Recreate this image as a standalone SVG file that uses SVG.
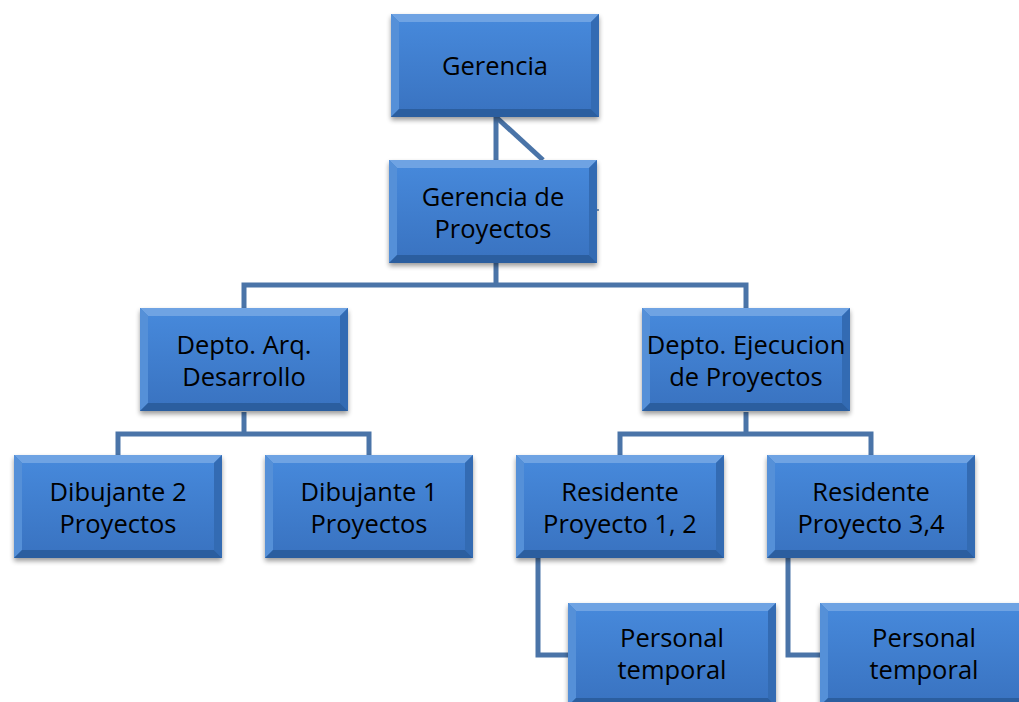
<svg xmlns="http://www.w3.org/2000/svg" xmlns:xlink="http://www.w3.org/1999/xlink" width="1019" height="702" viewBox="0 0 1019 702">
<style>
.c{fill:none;stroke:#4A74A8;stroke-width:5;stroke-linejoin:miter}
.t{font-family:"Open Sans","Liberation Sans",sans-serif;font-size:25.5px;fill:#000;text-anchor:middle}
</style>
<defs>
<linearGradient id="g" x1="0" y1="0" x2="0" y2="1">
<stop offset="0" stop-color="#4688DA"/>
<stop offset="1" stop-color="#3A74C2"/>
</linearGradient>
<filter id="sh" x="-10%" y="-10%" width="120%" height="130%">
<feGaussianBlur in="SourceAlpha" stdDeviation="2.5"/>
<feOffset dx="0" dy="3"/>
<feComponentTransfer><feFuncA type="linear" slope="0.4"/></feComponentTransfer>
<feMerge><feMergeNode/><feMergeNode in="SourceGraphic"/></feMerge>
</filter>
<g id="box">
<rect x="0" y="0" width="208" height="103" fill="#3E7BC9" filter="url(#sh)"/>
<polygon points="0,0 208,0 200,8 8,8" fill="#6FA3E3"/>
<polygon points="0,0 8,8 8,95 0,103" fill="#5590D8"/>
<polygon points="208,0 208,103 200,95 200,8" fill="#336BB3"/>
<polygon points="0,103 8,95 200,95 208,103" fill="#2B5E9F"/>
<rect x="8" y="8" width="192" height="87" fill="url(#g)"/>
</g>
</defs>
<rect width="1019" height="702" fill="#fff"/>
<g id="connectors">
<path class="c" d="M496,117 V160"/>
<path class="c" d="M496,117 L543,160"/>
<path class="c" d="M496,263 V285"/>
<path class="c" d="M244,308 V285 H746 V308"/>
<path class="c" d="M244,412 V434"/>
<path class="c" d="M118,455 V434 H369 V455"/>
<path class="c" d="M746,412 V434"/>
<path class="c" d="M620,455 V434 H871 V455"/>
<path class="c" d="M538,558 V655 H568"/>
<path class="c" d="M788,558 V655 H820"/>
<path d="M597,210 h2" stroke="#4A74A8" stroke-width="1.5"/>
</g>
<g id="gerencia" transform="translate(391,14)"><use xlink:href="#box"/><text class="t" x="104" y="61">Gerencia</text></g>
<g id="gerencia-proyectos" transform="translate(389,160)"><use xlink:href="#box"/><text class="t" x="104" y="46">Gerencia de</text><text class="t" x="104" y="78">Proyectos</text></g>
<g id="depto-arq" transform="translate(140,308)"><use xlink:href="#box"/><text class="t" x="104" y="46">Depto. Arq.</text><text class="t" x="104" y="78">Desarrollo</text></g>
<g id="depto-ejec" transform="translate(642,308)"><use xlink:href="#box"/><text class="t" x="104" y="46">Depto. Ejecucion</text><text class="t" x="104" y="78">de Proyectos</text></g>
<g id="dibujante2" transform="translate(14,455)"><use xlink:href="#box"/><text class="t" x="104" y="46">Dibujante 2</text><text class="t" x="104" y="78">Proyectos</text></g>
<g id="dibujante1" transform="translate(265,455)"><use xlink:href="#box"/><text class="t" x="104" y="46">Dibujante 1</text><text class="t" x="104" y="78">Proyectos</text></g>
<g id="residente12" transform="translate(516,455)"><use xlink:href="#box"/><text class="t" x="104" y="46">Residente</text><text class="t" x="104" y="78">Proyecto 1, 2</text></g>
<g id="residente34" transform="translate(767,455)"><use xlink:href="#box"/><text class="t" x="104" y="46">Residente</text><text class="t" x="104" y="78">Proyecto 3,4</text></g>
<g id="personal1" transform="translate(568,603)"><use xlink:href="#box"/><text class="t" x="104" y="44">Personal</text><text class="t" x="104" y="76">temporal</text></g>
<g id="personal2" transform="translate(820,603)"><use xlink:href="#box"/><text class="t" x="104" y="44">Personal</text><text class="t" x="104" y="76">temporal</text></g>
</svg>
